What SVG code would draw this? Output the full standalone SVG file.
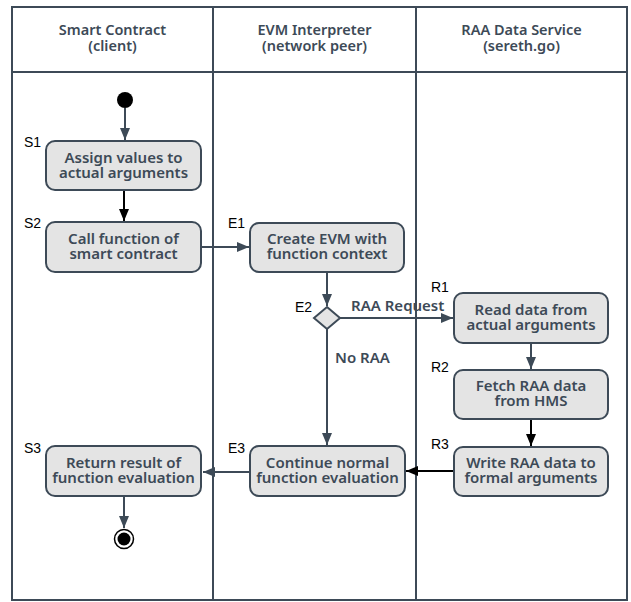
<svg xmlns="http://www.w3.org/2000/svg" width="631" height="602" viewBox="0 0 631 602">
  <style>
    .frame { fill: none; stroke: #3d4a57; stroke-width: 2; }
    .head { font-family: "Noto Sans", "DejaVu Sans", sans-serif; font-size: 14.5px; font-weight: 600; fill: #3d4a57; text-anchor: middle; }
    .box { fill: #e4e4e4; stroke: #3d4a57; stroke-width: 2; }
    .txt { font-family: "Noto Sans", "DejaVu Sans", sans-serif; font-size: 15px; font-weight: 600; fill: #3d4a57; text-anchor: middle; }
    .tag { font-family: "Liberation Sans", Arial, sans-serif; font-size: 14px; fill: #000; }
    .edge { fill: none; stroke: #3d4a57; stroke-width: 2; }
    .edge.dark { stroke: #000; }
    .elabel { font-family: "Noto Sans", "DejaVu Sans", sans-serif; font-size: 15px; font-weight: 600; fill: #3d4a57; }
  </style>
  <defs>
    <marker id="arrow" viewBox="0 0 12 10" refX="12" refY="5" markerWidth="12" markerHeight="10" markerUnits="userSpaceOnUse" orient="auto" overflow="visible">
      <path d="M0,0 L12,5 L0,10 z" fill="#3d4a57"/>
    </marker>
    <marker id="arrowDark" viewBox="0 0 12 10" refX="12" refY="5" markerWidth="12" markerHeight="10" markerUnits="userSpaceOnUse" orient="auto" overflow="visible">
      <path d="M0,0 L12,5 L0,10 z" fill="#000"/>
    </marker>
  </defs>

  <rect width="631" height="602" fill="#fff"/>

  <!-- swimlane frame -->
  <g id="lanes">
    <rect class="frame" x="12" y="7" width="615" height="593"/>
    <line class="frame" x1="12" y1="72" x2="627" y2="72"/>
    <line class="frame" x1="213" y1="7" x2="213" y2="600"/>
    <line class="frame" x1="416" y1="7" x2="416" y2="600"/>
    <text class="head" x="112.5" y="35">Smart Contract</text>
    <text class="head" x="112.5" y="51">(client)</text>
    <text class="head" x="314.5" y="35">EVM Interpreter</text>
    <text class="head" x="314.5" y="51">(network peer)</text>
    <text class="head" x="521.5" y="35">RAA Data Service</text>
    <text class="head" x="521.5" y="51">(sereth.go)</text>
  </g>

  <!-- connectors -->
  <g id="connectors">
    <line class="edge" x1="125" y1="108" x2="125" y2="140" marker-end="url(#arrow)"/>
    <line class="edge dark" x1="124" y1="190" x2="124" y2="221" marker-end="url(#arrowDark)"/>
    <line class="edge" x1="201" y1="247" x2="249" y2="247" marker-end="url(#arrow)"/>
    <line class="edge" x1="327" y1="272" x2="327" y2="306" marker-end="url(#arrow)"/>
    <line class="edge" x1="340" y1="318" x2="453" y2="318" marker-end="url(#arrow)"/>
    <text class="elabel" x="351" y="311">RAA Request</text>
    <line class="edge" x1="327" y1="329" x2="327" y2="445" marker-end="url(#arrow)"/>
    <text class="elabel" x="335" y="363">No RAA</text>
    <line class="edge" x1="531" y1="343" x2="531" y2="369" marker-end="url(#arrow)"/>
    <line class="edge dark" x1="531" y1="419" x2="531" y2="446" marker-end="url(#arrowDark)"/>
    <line class="edge dark" x1="454" y1="471" x2="406" y2="471" marker-end="url(#arrowDark)"/>
    <line class="edge" x1="250" y1="472" x2="203" y2="472" marker-end="url(#arrow)"/>
    <line class="edge" x1="124" y1="496" x2="124" y2="528" marker-end="url(#arrow)"/>
  </g>

  <g id="start">
    <circle cx="125" cy="100" r="8" fill="#000"/>
  </g>

  <g id="S1">
    <rect class="box" x="46" y="141" width="155" height="49" rx="9"/>
    <text class="tag" x="24" y="147">S1</text>
    <text class="txt" x="123.5" y="162.5">Assign values to</text>
    <text class="txt" x="123.5" y="177.5">actual arguments</text>
  </g>

  <g id="S2">
    <rect class="box" x="46" y="222" width="155" height="50" rx="9"/>
    <text class="tag" x="24" y="228">S2</text>
    <text class="txt" x="123.5" y="244">Call function of</text>
    <text class="txt" x="123.5" y="259">smart contract</text>
  </g>

  <g id="E1">
    <rect class="box" x="250" y="223" width="154" height="49" rx="9"/>
    <text class="tag" x="228" y="228">E1</text>
    <text class="txt" x="327" y="244">Create EVM with</text>
    <text class="txt" x="327" y="259">function context</text>
  </g>

  <g id="E2">
    <path class="box" d="M327,307 L340,318 L327,329 L314,318 z"/>
    <text class="tag" x="295" y="312">E2</text>
  </g>

  <g id="R1">
    <rect class="box" x="454" y="293" width="154" height="50" rx="9"/>
    <text class="tag" x="431" y="292">R1</text>
    <text class="txt" x="531" y="315">Read data from</text>
    <text class="txt" x="531" y="330">actual arguments</text>
  </g>

  <g id="R2">
    <rect class="box" x="454" y="370" width="154" height="49" rx="9"/>
    <text class="tag" x="431" y="372">R2</text>
    <text class="txt" x="531" y="391">Fetch RAA data</text>
    <text class="txt" x="531" y="406">from HMS</text>
  </g>

  <g id="R3">
    <rect class="box" x="454" y="447" width="154" height="49" rx="9"/>
    <text class="tag" x="431" y="449">R3</text>
    <text class="txt" x="531" y="468">Write RAA data to</text>
    <text class="txt" x="531" y="483">formal arguments</text>
  </g>

  <g id="E3">
    <rect class="box" x="250" y="446" width="155" height="50" rx="9"/>
    <text class="tag" x="228" y="453">E3</text>
    <text class="txt" x="327.5" y="468">Continue normal</text>
    <text class="txt" x="327.5" y="483">function evaluation</text>
  </g>

  <g id="S3">
    <rect class="box" x="46" y="446" width="155" height="50" rx="9"/>
    <text class="tag" x="24" y="453">S3</text>
    <text class="txt" x="123.5" y="468">Return result of</text>
    <text class="txt" x="123.5" y="483">function evaluation</text>
  </g>

  <g id="end">
    <circle cx="124" cy="539" r="9.5" fill="#fff" stroke="#000" stroke-width="1.5"/>
    <circle cx="124" cy="539" r="6.5" fill="#000"/>
  </g>
</svg>
